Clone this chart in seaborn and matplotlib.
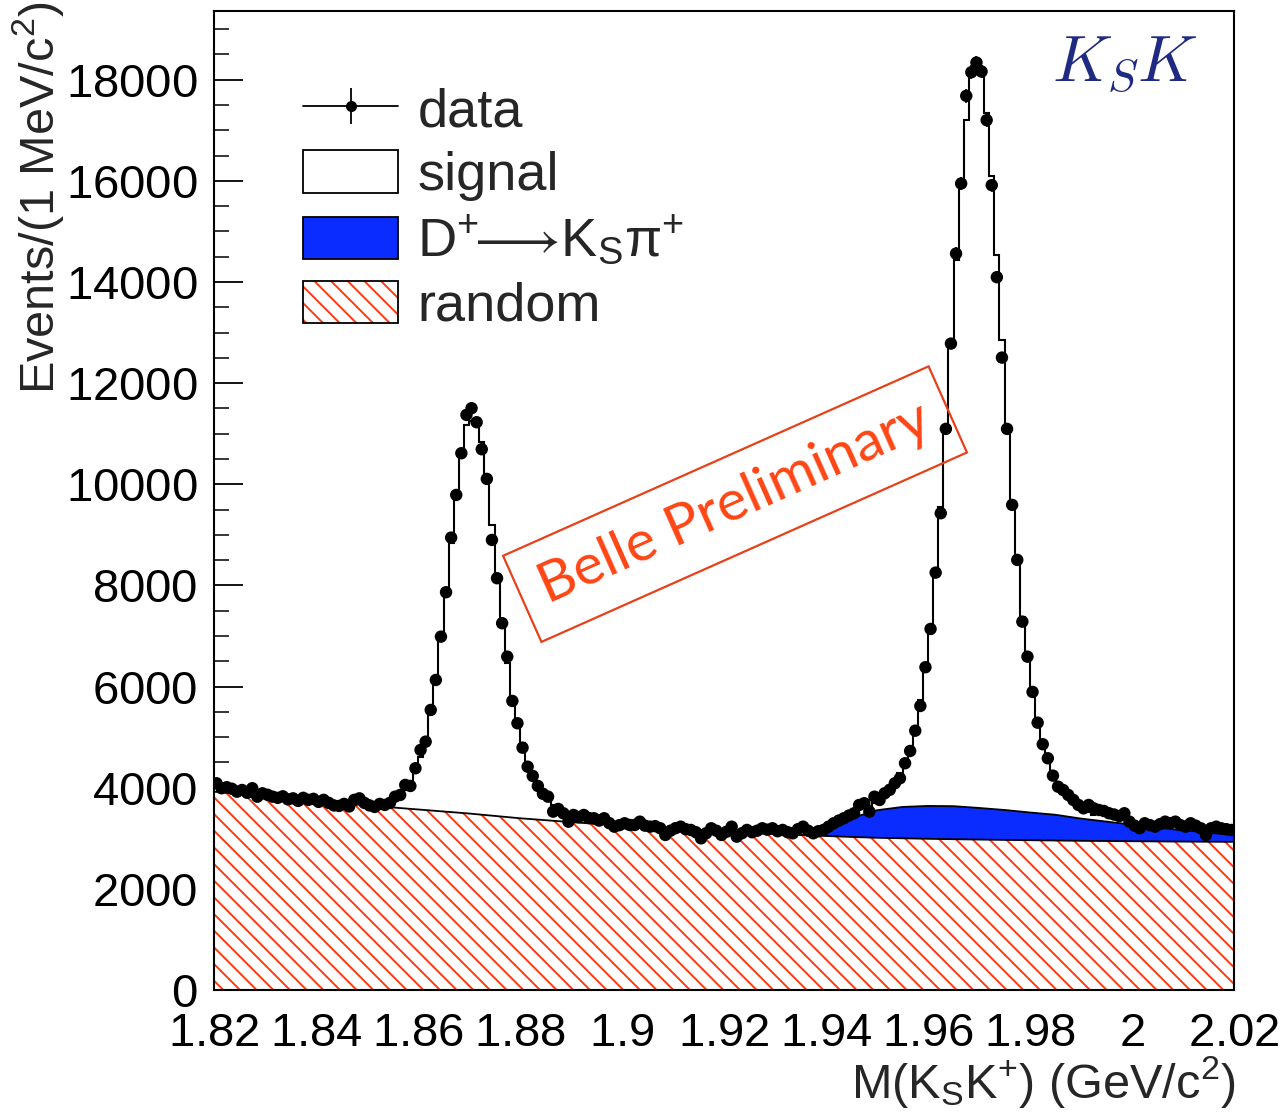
import numpy as np
import pandas as pd
import matplotlib
matplotlib.use("Agg")
import matplotlib.pyplot as plt
import seaborn as sns
from matplotlib.lines import Line2D
from matplotlib.patches import Patch
from matplotlib.legend_handler import HandlerTuple
from matplotlib.ticker import MultipleLocator, FuncFormatter

# ---------------- data ----------------
mass_lo, mass_hi = 1.82, 2.02
bin_width = 0.001

data_counts = [
    4088, 3990, 4010, 3980, 3922, 3955, 3900, 3990, 3823, 3890,
    3860, 3823, 3800, 3830, 3770, 3790, 3740, 3800, 3760, 3780,
    3720, 3760, 3700, 3650, 3640, 3680, 3630, 3760, 3790, 3700,
    3650, 3620, 3680, 3660, 3700, 3823, 3857, 4055, 4035, 4385,
    4747, 4911, 5538, 6131, 6988, 7866, 8946, 9790, 10615, 11373,
    11505, 11228, 10694, 10107, 8900, 8143, 7253, 6592, 5716, 5275,
    4792, 4416, 4233, 4035, 3880, 3823, 3527, 3580, 3495, 3329,
    3461, 3420, 3461, 3400, 3396, 3350, 3396, 3300, 3230, 3260,
    3297, 3264, 3264, 3329, 3250, 3230, 3240, 3198, 3066, 3150,
    3200, 3230, 3180, 3165, 3120, 3000, 3100, 3198, 3150, 3066,
    3130, 3230, 3033, 3100, 3165, 3120, 3150, 3198, 3170, 3198,
    3140, 3165, 3120, 3099, 3180, 3230, 3150, 3099, 3140, 3165,
    3230, 3297, 3350, 3396, 3450, 3495, 3659, 3693, 3527, 3823,
    3758, 3890, 3960, 4088, 4187, 4484, 4727, 5128, 5617, 6383,
    7140, 8254, 9428, 11096, 12783, 14563, 15948, 17682, 18150, 18340,
    18163, 17202, 15916, 14096, 12506, 11096, 9593, 8505, 7284, 6592,
    5894, 5287, 4860, 4583, 4239, 4021, 3955, 3857, 3758, 3659,
    3593, 3659, 3593, 3560, 3540, 3495, 3470, 3440, 3495, 3329,
    3250, 3198, 3297, 3260, 3230, 3280, 3329, 3300, 3329, 3260,
    3230, 3297, 3250, 3198, 3066, 3198, 3230, 3198, 3180, 3165,
]

# total fit (signal stacked on backgrounds) around the two peaks
fit_peak1_first_bin = 33
fit_peak1 = [
    3700, 3750, 3810, 3890, 3990, 4130, 4350, 4600, 4950, 5450,
    6070, 6960, 7850, 8840, 9760, 10620, 11180, 11250, 11180, 10840,
    10090, 9200, 8110, 7320, 6470, 5700, 5280, 4880, 4490, 4290,
    4090, 3910, 3800, 3660, 3570, 3500,
]
fit_peak2_first_bin = 127
fit_peak2 = [
    3600, 3640, 3700, 3770, 3850, 3950, 4100, 4290, 4490, 4750,
    5080, 5740, 6330, 7120, 8310, 9560, 11080, 12720, 14440, 15960,
    17210, 18140, 18180, 18160, 17350, 16090, 14540, 12860, 11120, 9600,
    8450, 7380, 6560, 5930, 5330, 4900, 4580, 4300, 4080, 3910,
    3790, 3700, 3630, 3570, 3520, 3470,
]

# background components on a 5 MeV grid (1.820 ... 2.020)
random_bkg = [
    3922, 3875, 3830, 3780, 3730, 3690, 3650, 3610, 3570, 3530,
    3490, 3443, 3396, 3358, 3320, 3285, 3250, 3220, 3190, 3162,
    3135, 3110, 3085, 3065, 3045, 3027, 3010, 3000, 2990, 2982,
    2975, 2968, 2962, 2956, 2950, 2946, 2942, 2938, 2935, 2932,
    2930,
]
dplus_bkg = [
    0, 0, 0, 0, 0, 0, 0, 0, 0, 0,
    0, 0, 0, 0, 0, 0, 0, 0, 0, 0,
    0, 0, 0, 0, 55, 373, 545, 620, 650, 653,
    625, 592, 548, 509, 440, 384, 328, 272, 225, 178,
    136,
]

legend_labels = ["data", "signal",
                 r"D$^{+}\!\!\longrightarrow\!$K$_{S}\pi^{+}$", "random"]

# ---------------- style ----------------
sns.set_style("ticks")
plt.rcParams["font.family"] = ["Liberation Sans", "DejaVu Sans"]
plt.rcParams["mathtext.fontset"] = "custom"
plt.rcParams["mathtext.rm"] = "Liberation Sans"
plt.rcParams["mathtext.it"] = "Liberation Sans:italic"
plt.rcParams["mathtext.default"] = "regular"
plt.rcParams["hatch.linewidth"] = 1.4

RED = "#ff3a12"
BLUE = "#0a2cff"
HATCH = "\\\\"
W, H = 1286, 1117

edges = mass_lo + bin_width * np.arange(len(data_counts) + 1)
centers = edges[:-1] + bin_width / 2
df = pd.DataFrame({"mass": centers, "events": np.array(data_counts, float)})
grid = mass_lo + 0.005 * np.arange(len(random_bkg))
rnd = np.array(random_bkg, float)
dp = np.array(dplus_bkg, float)

fig = plt.figure(figsize=(W / 100, H / 100), dpi=100)
ax = fig.add_axes([214 / W, 1 - 990 / H, 1020 / W, 979 / H])

# random background (hatched)
ax.fill_between(grid, 0, rnd, facecolor="white", edgecolor=RED, hatch=HATCH,
                linewidth=0, zorder=1)
ax.plot(grid, rnd, color="k", lw=1.3, zorder=2)
# D+ -> Ks pi+ component
ax.fill_between(grid, rnd, rnd + dp, facecolor=BLUE,
                edgecolor="none", linewidth=0, zorder=1.5)
m = np.convolve(dp > 0, [1, 1, 1], mode="same") > 0
ax.plot(grid[m], (rnd + dp)[m], color="k", lw=1.3, zorder=2)

# total fit stairs around the peaks
e1 = edges[fit_peak1_first_bin: fit_peak1_first_bin + len(fit_peak1) + 1]
ax.stairs(fit_peak1, e1, baseline=None, color="k", lw=1.5, zorder=3)
e2 = edges[fit_peak2_first_bin: fit_peak2_first_bin + len(fit_peak2) + 1]
ax.stairs(fit_peak2, e2, baseline=None, color="k", lw=1.5, zorder=3)

# data points
ax.errorbar(df["mass"], df["events"], yerr=np.sqrt(df["events"]),
            xerr=bin_width / 2, fmt="none", ecolor="k", elinewidth=1.2, zorder=4)
sns.scatterplot(data=df, x="mass", y="events", color="k", s=80,
                edgecolor="none", linewidth=0, zorder=5, ax=ax, legend=False)

# axes
ax.set_xlim(mass_lo, mass_hi)
ax.set_ylim(0, 19360)
ax.xaxis.set_major_locator(MultipleLocator(0.02))
ax.xaxis.set_minor_locator(MultipleLocator(0.005))
ax.yaxis.set_major_locator(MultipleLocator(2000))
ax.yaxis.set_minor_locator(MultipleLocator(500))
ax.xaxis.set_major_formatter(FuncFormatter(lambda v, p: f"${v:g}$"))
ax.yaxis.set_major_formatter(FuncFormatter(lambda v, p: f"${v:.0f}$"))
ax.tick_params(which="major", direction="in", length=21, width=1.3,
               labelsize=34, top=False, right=False, colors="k")
ax.tick_params(which="minor", direction="in", length=11, width=1.3,
               top=False, right=False)
ax.tick_params(axis="x", which="major", pad=16)
ax.tick_params(axis="y", which="major", pad=12)
for s in ax.spines.values():
    s.set_visible(True)
    s.set_linewidth(1.5)
    s.set_color("k")

ax.set_xlabel(r"M(K$_{S}$K$^{+}$) (GeV/c$^{2}$)", fontsize=35, ha="right", va="baseline")
ax.xaxis.set_label_coords(1235 / W, 1 - 1098 / H, transform=fig.transFigure)
ax.set_ylabel(r"Events/(1 MeV/c$^{2}$)", fontsize=35)
ax.yaxis.label.set(rotation_mode="default", ha="left", va="top")
ax.yaxis.set_label_coords(10 / W, 1 - 1 / H, transform=fig.transFigure)

# legend
handles = [
    (Line2D([], [], color="k", lw=1.3, marker="o", ms=7),
     Line2D([], [], ls="none", color="k", marker="|", ms=26, mew=1.3)),
    Patch(facecolor="white", edgecolor="k", lw=1.3),
    Patch(facecolor=BLUE, edgecolor="k", lw=1.3),
    (Patch(facecolor="white", edgecolor=RED, hatch=HATCH, lw=0),
     Patch(facecolor="none", edgecolor="k", lw=1.3)),
]
ax.legend(handles, legend_labels, loc="upper left",
          bbox_to_anchor=(303 / W, 1 - 86 / H), bbox_transform=fig.transFigure,
          frameon=False, fontsize=39, handlelength=1.76, handleheight=0.83,
          handletextpad=0.35, labelspacing=0.24, borderpad=0, borderaxespad=0,
          handler_map={tuple: HandlerTuple(ndivide=1)})

# annotations
ax.text(1.92216, 9608, "Belle Preliminary", rotation=24, rotation_mode="anchor",
        ha="center", va="center", color="#ff4514", fontsize=41, family="Lato",
        bbox=dict(boxstyle="square,pad=0.38", fc="none", ec="#e8401a", lw=1.6),
        zorder=6)
ax.text(1.99863, 17959, r"$\mathit{K}_{\mathit{S}}\mathit{K}$", math_fontfamily="cm",
        ha="center", va="baseline", color="#1f2a80", fontsize=47, zorder=6)

fig.savefig("out.png", dpi=100)
